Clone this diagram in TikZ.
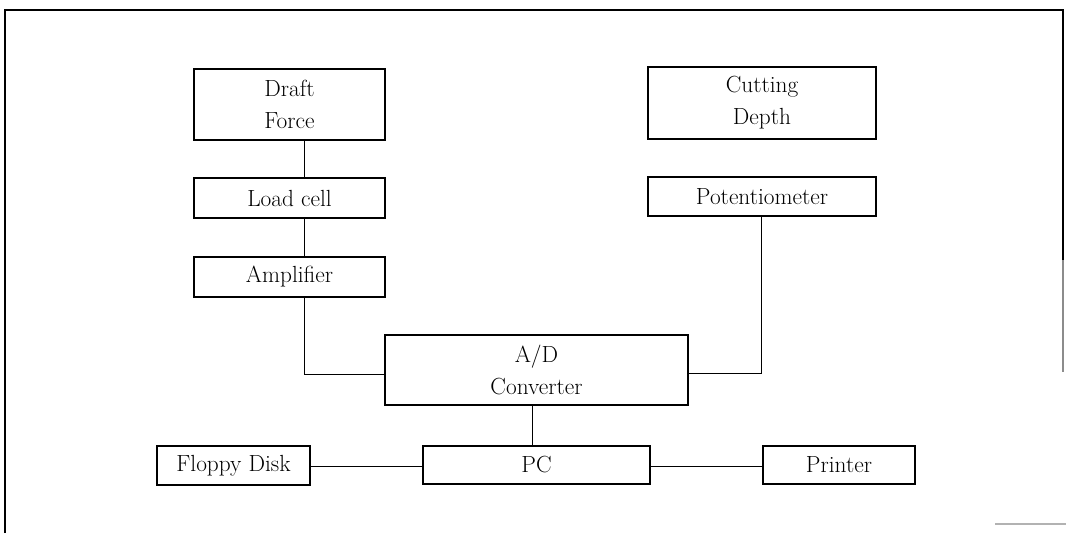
\documentclass[tikz,border=0pt]{standalone}
\usetikzlibrary{calc}
\begin{document}
\begin{tikzpicture}[x=0.75pt,y=-0.75pt,
  block/.style={draw,line width=0.9pt,inner sep=0pt,align=center,
    font=\fontsize{17.5}{24}\selectfont},
  link/.style={line width=0.6pt},
  frameline/.style={line width=1.1pt}]
\useasboundingbox (0,0) rectangle (1066,533);

% outer frame (open at the bottom)
\draw[frameline] (5,533) -- (5,10) -- (1063,10) -- (1063,260);
\draw[frameline,black!45] (1063,260) -- (1063,372);
\draw[line width=0.8pt,black!30] (995,524) -- (1066,524);

% helper box: #1 name, #2 left, #3 top, #4 right, #5 bottom, #6 text
\newcommand{\blockbox}[6]{%
  \node[block,minimum width={(#4-#2)*0.75pt},minimum height={(#5-#3)*0.75pt}]
    (#1) at ({(#2+#4)/2},{(#3+#5)/2}) {#6};}

\blockbox{draft}{194}{69}{385}{140}{Draft\\Force}
\blockbox{cut}{648}{67}{876}{139}{Cutting\\Depth}
\blockbox{load}{194}{178}{385}{218}{Load cell}
\blockbox{pot}{648}{177}{876}{216}{Potentiometer}
\blockbox{amp}{194}{257}{385}{297}{Amplifier}
\blockbox{ad}{385}{335}{688}{405}{A/D\\Converter}
\blockbox{pc}{423}{446}{650}{484}{PC}
\blockbox{floppy}{157}{446}{310}{485}{Floppy Disk}
\blockbox{printer}{763}{446}{915}{484}{Printer}

% routing columns and rows
\coordinate (lx) at (304,0);
\coordinate (rx) at (761,0);
\coordinate (cx) at (532,0);
\coordinate (ly) at (0,374);
\coordinate (ry) at (0,373);
\coordinate (by) at (0,466);

\draw[link] (draft.south -| lx) -- (load.north -| lx);
\draw[link] (load.south -| lx) -- (amp.north -| lx);
\draw[link] (amp.south -| lx) -- (lx |- ly) -- (ad.west |- ly);
\draw[link] (pot.south -| rx) -- (rx |- ry) -- (ad.east |- ry);
\draw[link] (ad.south -| cx) -- (pc.north -| cx);
\draw[link] (floppy.east |- by) -- (pc.west |- by);
\draw[link] (pc.east |- by) -- (printer.west |- by);
\end{tikzpicture}
\end{document}
